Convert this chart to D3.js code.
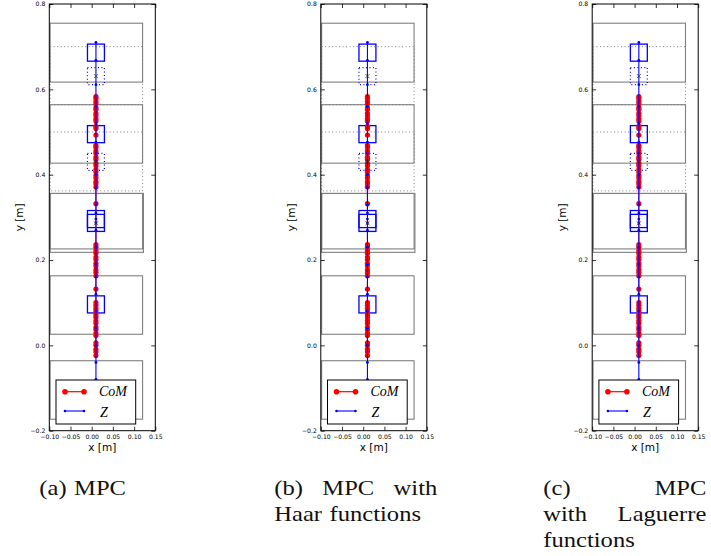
<!DOCTYPE html>
<html>
<head>
<meta charset="utf-8">
<script src="https://cdn.jsdelivr.net/npm/d3@7"></script>
<style>
  body { margin: 0; background: #fff; }
  svg { display: block; }
</style>
</head>
<body>
<svg id="chart" width="711" height="556"></svg>
<script>
// ---- values ----
const xTicks = [-0.10, -0.05, 0.00, 0.05, 0.10, 0.15];
const yTicks = [-0.2, 0.0, 0.2, 0.4, 0.6, 0.8];

// footstep areas [xmin, xmax, ymin, ymax]
const stepsSolid = [
  [-0.098, 0.120, 0.617, 0.755],
  [-0.098, 0.120, 0.427, 0.564],
  [-0.098, 0.120, 0.226, 0.356],
  [-0.098, 0.122, 0.218, 0.356],
  [-0.098, 0.120, 0.026, 0.163],
  [-0.098, 0.120, -0.173, -0.036]
];
const stepsDotted = [
  [-0.098, 0.120, 0.564, 0.700],
  [-0.098, 0.120, 0.362, 0.500]
];

// ZMP constraint squares (centres) and their half size
const zBoxes = [[0.01, 0.686], [0.01, 0.495], [0.01, 0.296], [0.01, 0.287], [0.01, 0.096]];
const zBoxesNext = [[0.01, 0.631], [0.01, 0.430]];
const boxHalf = 0.02;
const crossPts = [[0.01, 0.631], [0.01, 0.430], [0.01, 0.286]];

// centre of mass trajectory
const comX = 0.01;
const comY = [0.583, 0.579, 0.572, 0.566, 0.557, 0.553, 0.544, 0.538, 0.531, 0.526,
  0.513, 0.508, 0.493, 0.469, 0.464, 0.456, 0.450, 0.441, 0.436, 0.427, 0.421,
  0.412, 0.406, 0.398, 0.392, 0.384, 0.379, 0.371, 0.332, 0.236, 0.230, 0.222,
  0.216, 0.207, 0.201, 0.192, 0.186, 0.177, 0.171, 0.163, 0.132, 0.100, 0.094,
  0.087, 0.081, 0.072, 0.066, 0.058, 0.052, 0.043, 0.037, 0.029, 0.023, 0.006,
  0.000, -0.009, -0.015, -0.024];

// ZMP trajectory
const zX = 0.01;
const zY = [0.710, 0.668, 0.611, 0.560, 0.520, 0.476, 0.450, 0.400, 0.370, 0.330,
  0.310, 0.296, 0.287, 0.270, 0.230, 0.190, 0.160, 0.120, 0.080, 0.040, 0.000,
  -0.040, -0.080, -0.120];

const panelLeft = [49.3, 320.8, 592.2];   // px of each axes box
const captions = [
  [["(a)", "MPC"]],
  [["(b)", "MPC", "with"], ["Haar", "functions"]],
  [["(c)", "MPC"], ["with", "Laguerre"], ["functions"]]
];
const captionLeft = [39.3, 274.3, 543.3];
const captionWidth = 163;

const svg = d3.select('#chart');
const axTop = 4, axBottom = 430.7, axW = 106;
const blue = '#0000ff', red = '#ff0000', grey = '#7f7f7f';

panelLeft.forEach((left, i) => {
  const x = d3.scaleLinear().domain([-0.1, 0.15]).range([left, left + axW]);
  const y = d3.scaleLinear().domain([-0.2, 0.8]).range([axBottom, axTop]);
  const g = svg.append('g');

  const clipId = 'clip' + i;
  g.append('clipPath').attr('id', clipId).append('rect')
    .attr('x', left).attr('y', axTop).attr('width', axW).attr('height', axBottom - axTop);
  const plot = g.append('g').attr('clip-path', `url(#${clipId})`);

  // footsteps
  const rectOf = (sel, d) => sel
    .attr('x', x(d[0])).attr('y', y(d[3]))
    .attr('width', x(d[1]) - x(d[0])).attr('height', y(d[2]) - y(d[3]));
  plot.selectAll('rect.solid').data(stepsSolid).join('rect')
    .attr('class', 'solid').each(function(d){ rectOf(d3.select(this), d); })
    .attr('fill', 'none').attr('stroke', grey).attr('stroke-width', 1.1);
  plot.selectAll('rect.dotted').data(stepsDotted).join('rect')
    .attr('class', 'dotted').each(function(d){ rectOf(d3.select(this), d); })
    .attr('fill', 'none').attr('stroke', grey).attr('stroke-width', 1)
    .attr('stroke-dasharray', '1,2.5');

  // ZMP boxes
  const boxOf = (sel, d) => sel
    .attr('x', x(d[0] - boxHalf)).attr('y', y(d[1] + boxHalf))
    .attr('width', x(d[0] + boxHalf) - x(d[0] - boxHalf))
    .attr('height', y(d[1] - boxHalf) - y(d[1] + boxHalf));
  plot.selectAll('rect.zbox').data(zBoxes).join('rect')
    .attr('class', 'zbox').each(function(d){ boxOf(d3.select(this), d); })
    .attr('fill', 'none').attr('stroke', blue).attr('stroke-width', 1.3);
  plot.selectAll('rect.zboxn').data(zBoxesNext).join('rect')
    .attr('class', 'zboxn').each(function(d){ boxOf(d3.select(this), d); })
    .attr('fill', 'none').attr('stroke', blue).attr('stroke-width', 1.2)
    .attr('stroke-dasharray', '1,2.5');

  // CoM
  const line = d3.line().x(d => x(d[0])).y(d => y(d[1]));
  const com = comY.map(v => [comX, v]);
  plot.append('path').attr('d', line(com)).attr('fill', 'none')
    .attr('stroke', red).attr('stroke-width', 1);
  plot.selectAll('circle.com').data(com).join('circle').attr('class', 'com')
    .attr('cx', d => x(d[0])).attr('cy', d => y(d[1])).attr('r', 2.6)
    .attr('fill', red);

  // ZMP
  const zmp = zY.map(v => [zX, v]);
  plot.append('path').attr('d', line(zmp)).attr('fill', 'none')
    .attr('stroke', blue).attr('stroke-width', 1.1);
  plot.selectAll('circle.z').data(zmp).join('circle').attr('class', 'z')
    .attr('cx', d => x(d[0])).attr('cy', d => y(d[1])).attr('r', 1.4)
    .attr('fill', blue);

  plot.selectAll('path.cross').data(crossPts).join('path').attr('class', 'cross')
    .attr('d', d => `M${x(d[0]) - 2},${y(d[1]) - 2}L${x(d[0]) + 2},${y(d[1]) + 2}M${x(d[0]) - 2},${y(d[1]) + 2}L${x(d[0]) + 2},${y(d[1]) - 2}`)
    .attr('stroke', '#333').attr('stroke-width', 0.8);

  // axes
  const fmtX = d3.format('.2f'), fmtY = d3.format('.1f');
  const axes = [
    [d3.axisBottom(x).tickValues(xTicks).tickFormat(fmtX).tickPadding(4), `translate(0,${axBottom})`],
    [d3.axisTop(x).tickValues(xTicks).tickFormat(''), `translate(0,${axTop})`],
    [d3.axisLeft(y).tickValues(yTicks).tickFormat(fmtY).tickPadding(4), `translate(${left},0)`],
    [d3.axisRight(y).tickValues(yTicks).tickFormat(''), `translate(${left + axW},0)`]
  ];
  axes.forEach(([ax, tr]) => {
    const a = g.append('g').attr('transform', tr).call(ax.tickSize(-4));
    a.select('.domain').remove();
    a.selectAll('line').attr('stroke', '#000').attr('stroke-width', 0.8);
    a.selectAll('text').attr('font-family', 'DejaVu Sans').attr('font-size', 6.1).attr('fill', '#000');
  });
  g.append('rect').attr('x', left).attr('y', axTop).attr('width', axW).attr('height', axBottom - axTop)
    .attr('fill', 'none').attr('stroke', '#000').attr('stroke-width', 1);

  g.append('text').attr('x', left + axW / 2).attr('y', 451).attr('text-anchor', 'middle')
    .attr('font-family', 'DejaVu Sans').attr('font-size', 10.5).text('x [m]');
  g.append('text').attr('transform', `translate(${left - 26},${(axTop + axBottom) / 2}) rotate(-90)`)
    .attr('text-anchor', 'middle').attr('font-family', 'DejaVu Sans').attr('font-size', 10.5)
    .text('y [m]');

  // legend
  const lg = g.append('g').attr('transform', `translate(${left + 6.7},380)`);
  lg.append('rect').attr('width', 79.7).attr('height', 44).attr('fill', '#fff')
    .attr('stroke', '#000').attr('stroke-width', 1);
  lg.append('line').attr('x1', 9).attr('x2', 28).attr('y1', 11.7).attr('y2', 11.7)
    .attr('stroke', red).attr('stroke-width', 1.2);
  lg.selectAll('circle.lc').data([9, 28]).join('circle').attr('class', 'lc')
    .attr('cx', d => d).attr('cy', 11.7).attr('r', 2.8).attr('fill', red);
  lg.append('line').attr('x1', 9).attr('x2', 28).attr('y1', 31).attr('y2', 31)
    .attr('stroke', blue).attr('stroke-width', 1.1);
  lg.selectAll('circle.lz').data([9, 28]).join('circle').attr('class', 'lz')
    .attr('cx', d => d).attr('cy', 31).attr('r', 1.3).attr('fill', blue);
  lg.append('text').attr('x', 43).attr('y', 16).attr('font-family', 'Liberation Serif')
    .attr('font-style', 'italic').attr('font-size', 14).text('CoM');
  lg.append('text').attr('x', 44).attr('y', 36.5).attr('font-family', 'Liberation Serif')
    .attr('font-style', 'italic').attr('font-size', 14).text('Z');
});

// captions, justified like the LaTeX subcaptions
const stretch = 1.17;
captions.forEach((lines, i) => {
  lines.forEach((words, li) => {
    const base = 495 + li * 25.8;
    const nodes = words.map(w => svg.append('text').attr('y', base)
      .attr('font-family', 'Liberation Serif').attr('font-size', 21).attr('fill', '#111').text(w));
    const widths = nodes.map(n => {
      const w = n.node().getComputedTextLength() * stretch;
      n.attr('textLength', w).attr('lengthAdjust', 'spacingAndGlyphs');
      return w;
    });
    const last = li === lines.length - 1;
    const gap = (!last && words.length > 1)
      ? (captionWidth - d3.sum(widths)) / (words.length - 1) : 7.5;
    let cx = captionLeft[i];
    nodes.forEach((n, k) => { n.attr('x', cx); cx += widths[k] + gap; });
  });
});
</script>
</body>
</html>
